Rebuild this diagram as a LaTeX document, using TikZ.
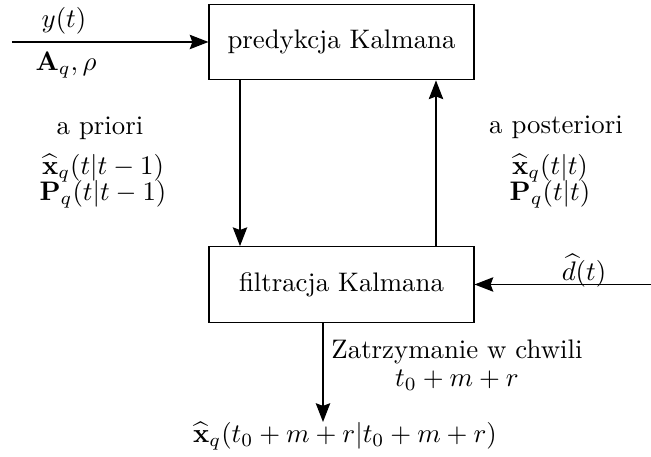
\documentclass[tikz,border=0pt]{standalone}
\usepackage{amsmath}
\usetikzlibrary{arrows.meta}
\begin{document}
\begin{tikzpicture}[x=0.373pt,y=-0.373pt,
  blk/.style={draw,line width=0.45pt,minimum width=98.8pt,minimum height=28.2pt,inner sep=0pt},
  conn/.style={line width=0.45pt,-{Stealth[length=7pt,width=5.4pt,inset=1pt]}},
  lbl/.style={inner sep=0pt,align=center}]
\useasboundingbox (0,0) rectangle (651,457);
\node[blk] (top) at (341.5,42) {predykcja Kalmana};
\node[blk] (bot) at (341.5,284.5) {filtracja Kalmana};
\coordinate (in) at (12,42);
\coordinate (din) at (651,284.5);
\coordinate (dx) at (240,0);
\coordinate (ux) at (436,0);
\coordinate (ox) at (323,0);
\coordinate (out) at (323,422);
\draw[conn] (in) -- (top.west);
\draw[conn] (top.south -| dx) -- (bot.north -| dx);
\draw[conn] (bot.north -| ux) -- (top.south -| ux);
\draw[conn] (din) -- (bot.east);
\draw[conn] (bot.south -| ox) -- (out);
\node[lbl] (yt) at (64,21) {$y(t)$};
\node[lbl] (aq) at (66,65) {$\mathbf{A}_q,\rho$};
\node[lbl] (apr) at (100,128) {a priori};
\node[lbl] (aprv) at (103,181) {$\begin{array}{c}\widehat{\mathbf{x}}_q(t|t-1)\\[-2pt]\mathbf{P}_q(t|t-1)\end{array}$};
\node[lbl] (apo) at (556,127) {a posteriori};
\node[lbl] (apov) at (550,181) {$\begin{array}{c}\widehat{\mathbf{x}}_q(t|t)\\[-2pt]\mathbf{P}_q(t|t)\end{array}$};
\node[lbl] (dt) at (584,271) {$\widehat{d}(t)$};
\node[lbl] (zat) at (457,352) {Zatrzymanie w chwili};
\node[lbl] (tm) at (457,380) {$t_0+m+r$};
\node[lbl] (res) at (345,436) {$\widehat{\mathbf{x}}_q(t_0+m+r|t_0+m+r)$};
\end{tikzpicture}
\end{document}
